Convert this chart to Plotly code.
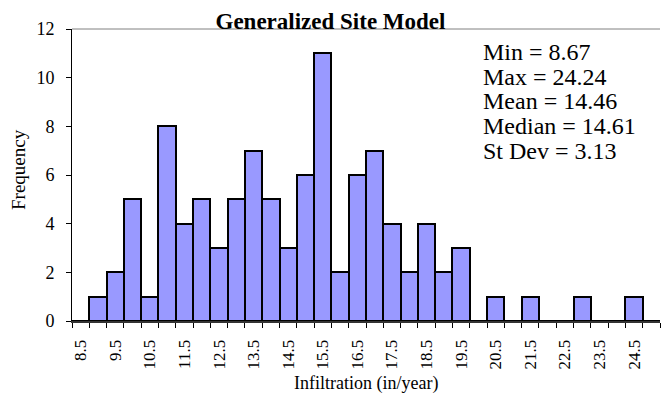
import plotly.graph_objects as go

# ---- data ----
bins = [8.5, 9.0, 9.5, 10.0, 10.5, 11.0, 11.5, 12.0, 12.5, 13.0, 13.5, 14.0, 14.5,
        15.0, 15.5, 16.0, 16.5, 17.0, 17.5, 18.0, 18.5, 19.0, 19.5, 20.0, 20.5,
        21.0, 21.5, 22.0, 22.5, 23.0, 23.5, 24.0, 24.5, 25.0]
counts = [0, 1, 2, 5, 1, 8, 4, 5, 3, 5, 7, 5, 3,
          6, 11, 2, 6, 7, 4, 2, 4, 2, 3, 0, 1,
          0, 1, 0, 0, 1, 0, 0, 1, 0]
tick_labels = ["8.5", "9.5", "10.5", "11.5", "12.5", "13.5", "14.5", "15.5", "16.5",
               "17.5", "18.5", "19.5", "20.5", "21.5", "22.5", "23.5", "24.5"]
stats_names = ["Min", "Max", "Mean", "Median", "St Dev"]
stats_values = ["8.67", "24.24", "14.46", "14.61", "3.13"]
title_text = "Generalized Site Model"
x_title = "Infiltration (in/year)"
y_title = "Frequency"

FONT = "Liberation Serif, Times New Roman, serif"
W, H = 661, 400
L, R, T, B = 72, 1, 29, 79
plot_h = H - T - B

half = (bins[1] - bins[0]) / 2
boundaries = [b - half for b in bins] + [bins[-1] + half]

fig = go.Figure()
fig.add_trace(go.Bar(
    x=bins, y=counts, width=half * 2,
    marker=dict(color="#9999FF", line=dict(color="black", width=2)),
    showlegend=False,
))

fig.update_layout(
    width=W, height=H,
    margin=dict(l=L, r=R, t=T, b=B, pad=0),
    paper_bgcolor="white", plot_bgcolor="white",
    bargap=0,
    font=dict(family=FONT, color="black", size=17),
    title=dict(text="<b>" + title_text + "</b>", x=0.5, xanchor="center",
               y=1 - 21 / H, yanchor="middle",
               font=dict(family=FONT, size=23, color="black")),
    xaxis=dict(
        range=[boundaries[0], boundaries[-1]],
        tickmode="array",
        tickvals=[float(t) for t in tick_labels],
        ticktext=tick_labels,
        tickangle=-90,
        ticks="",
        ticklabelstandoff=10,
        tickfont=dict(family=FONT, size=17),
        showgrid=False, zeroline=False,
        showline=True, linecolor="#333333", linewidth=2,
        minor=dict(tickmode="array", tickvals=boundaries, ticks="outside",
                   ticklen=5, tickcolor="black", tickwidth=1, showgrid=False),
    ),
    yaxis=dict(
        range=[0, 12], dtick=2, tick0=0,
        ticks="outside", ticklen=5, tickcolor="black", tickwidth=1,
        ticklabelstandoff=8,
        tickfont=dict(family=FONT, size=18),
        showgrid=False, zeroline=False,
        showline=True, linecolor="black", linewidth=1,
    ),
)

# top border of plot area
fig.add_shape(type="line", xref="paper", yref="paper", x0=0, x1=1, y0=1, y1=1,
              line=dict(color="#808080", width=1))

# axis titles
fig.add_annotation(text=x_title, xref="paper", yref="paper",
                   x=0.5, y=-(383 - (H - B)) / plot_h, xanchor="center", yanchor="middle",
                   showarrow=False, font=dict(family=FONT, size=18))
fig.add_annotation(text=y_title, xref="paper", yref="paper",
                   x=-(L - 18) / (W - L - R), y=(H - B - 170) / plot_h,
                   xanchor="center", yanchor="middle", textangle=-90,
                   showarrow=False, font=dict(family=FONT, size=19))

# stats box
line_y = [52, 77, 101, 126, 151]
for name, val, yy in zip(stats_names, stats_values, line_y):
    fig.add_annotation(text=f"{name} = {val}", xref="paper", yref="paper",
                       x=(481 - L) / (W - L - R), y=(H - B - yy) / plot_h,
                       xanchor="left", yanchor="middle", showarrow=False,
                       font=dict(family=FONT, size=24))

fig.write_html("out.html", config={"displayModeBar": False},
               post_script="document.body.style.margin='0';document.body.style.padding='0';")
